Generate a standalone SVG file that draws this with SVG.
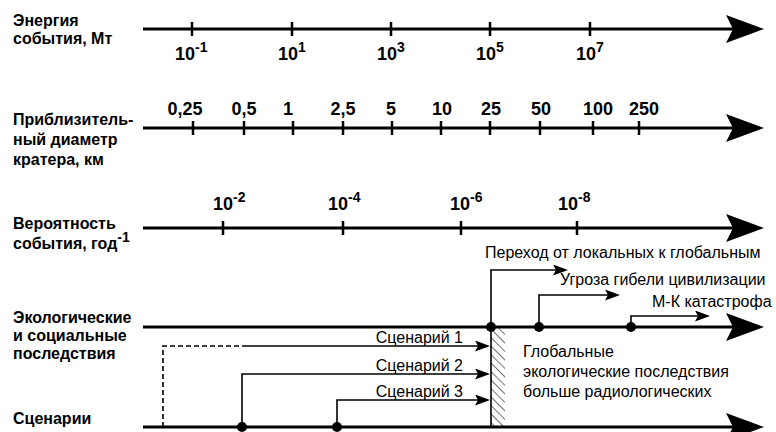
<svg xmlns="http://www.w3.org/2000/svg" width="776" height="432" viewBox="0 0 776 432">
<style>
.lbl{font-family:"Liberation Sans",Arial,sans-serif;font-weight:bold;font-size:16px;fill:#000}
.tk{font-family:"Liberation Sans",Arial,sans-serif;font-weight:bold;font-size:18px;fill:#000}
.tk2{font-family:"Liberation Sans",Arial,sans-serif;font-weight:bold;font-size:18px;fill:#000}
.sup{font-size:14px}
.txt{font-family:"Liberation Sans",Arial,sans-serif;font-size:16px;fill:#000}
.axis{stroke:#000;stroke-width:3;fill:none}
.tick{stroke:#000;stroke-width:2.5}
.br{stroke:#000;stroke-width:1.6;fill:none}
</style>
<defs>
<marker id="big" markerUnits="userSpaceOnUse" viewBox="0 0 38 28" markerWidth="38" markerHeight="28" refX="24" refY="14" orient="auto">
<path d="M0,0 L38,14 L0,28 L7,14 z" fill="#000"/>
</marker>
<marker id="sm" markerUnits="userSpaceOnUse" viewBox="0 0 15 11" markerWidth="15" markerHeight="11" refX="10" refY="5.5" orient="auto">
<path d="M0,0 L15,5.5 L0,11 L3,5.5 z" fill="#000"/>
</marker>
<pattern id="hatch" patternUnits="userSpaceOnUse" width="6" height="6" patternTransform="rotate(-45)">
<line x1="0" y1="0" x2="0" y2="6" stroke="#000" stroke-width="1.1"/>
</pattern>
</defs>

<g id="energy">
<text class="lbl" x="13" y="26">Энергия</text>
<text class="lbl" x="13" y="44">события, Мт</text>
<line class="axis" x1="143" y1="29" x2="750" y2="29" marker-end="url(#big)"/>
<g class="tick">
<line x1="192" y1="22" x2="192" y2="36"/><line x1="292" y1="22" x2="292" y2="36"/><line x1="391" y1="22" x2="391" y2="36"/><line x1="490" y1="22" x2="490" y2="36"/><line x1="590" y1="22" x2="590" y2="36"/>
</g>
<text class="tk" x="175" y="60">10<tspan class="sup" dy="-8">-1</tspan></text>
<text class="tk" x="278" y="60">10<tspan class="sup" dy="-8">1</tspan></text>
<text class="tk" x="377" y="60">10<tspan class="sup" dy="-8">3</tspan></text>
<text class="tk" x="476" y="60">10<tspan class="sup" dy="-8">5</tspan></text>
<text class="tk" x="576" y="60">10<tspan class="sup" dy="-8">7</tspan></text>
</g>

<g id="crater">
<text class="lbl" x="13" y="125">Приблизитель-</text>
<text class="lbl" x="13" y="145">ный диаметр</text>
<text class="lbl" x="13" y="165">кратера, км</text>
<line class="axis" x1="143" y1="128" x2="750" y2="128" marker-end="url(#big)"/>
<g class="tick">
<line x1="193" y1="121" x2="193" y2="135"/><line x1="244" y1="121" x2="244" y2="135"/><line x1="293" y1="121" x2="293" y2="135"/><line x1="343" y1="121" x2="343" y2="135"/><line x1="392" y1="121" x2="392" y2="135"/><line x1="441" y1="121" x2="441" y2="135"/><line x1="490" y1="121" x2="490" y2="135"/><line x1="540" y1="121" x2="540" y2="135"/><line x1="593" y1="121" x2="593" y2="135"/><line x1="639" y1="121" x2="639" y2="135"/>
</g>
<g class="tk2" text-anchor="middle">
<text x="185" y="115">0,25</text><text x="244" y="115">0,5</text><text x="288" y="115">1</text><text x="343" y="115">2,5</text><text x="391" y="115">5</text><text x="442" y="115">10</text><text x="491" y="115">25</text><text x="541" y="115">50</text><text x="598" y="115">100</text><text x="644" y="115">250</text>
</g>
</g>

<g id="probability">
<text class="lbl" x="13" y="229">Вероятность</text>
<text class="lbl" x="13" y="249">события, год<tspan class="sup" dy="-7">-1</tspan></text>
<line class="axis" x1="143" y1="228" x2="750" y2="228" marker-end="url(#big)"/>
<g class="tick">
<line x1="223" y1="221" x2="223" y2="235"/><line x1="343" y1="221" x2="343" y2="235"/><line x1="461" y1="221" x2="461" y2="235"/><line x1="577" y1="221" x2="577" y2="235"/>
</g>
<text class="tk" x="213" y="210">10<tspan class="sup" dy="-8">-2</tspan></text>
<text class="tk" x="328" y="210">10<tspan class="sup" dy="-8">-4</tspan></text>
<text class="tk" x="450" y="210">10<tspan class="sup" dy="-8">-6</tspan></text>
<text class="tk" x="558" y="210">10<tspan class="sup" dy="-8">-8</tspan></text>
</g>

<g id="ecology">
<text class="lbl" x="13" y="323">Экологические</text>
<text class="lbl" x="13" y="341">и социальные</text>
<text class="lbl" x="13" y="359">последствия</text>
<line class="axis" x1="143" y1="327" x2="750" y2="327" marker-end="url(#big)"/>
</g>

<g id="scenarios">
<text class="lbl" x="13" y="424">Сценарии</text>
<line class="axis" x1="143" y1="427" x2="750" y2="427" marker-end="url(#big)"/>
</g>

<g id="hatched-zone">
<rect x="491" y="327" width="14" height="100" fill="url(#hatch)"/>
</g>

<g id="connectors">
<polyline class="br" points="491,427 491,270 563,270" marker-end="url(#sm)"/>
<polyline class="br" points="539,327 539,295 615,295" marker-end="url(#sm)"/>
<polyline class="br" points="631,327 631,316 705,316" marker-end="url(#sm)"/>
<polyline class="br" points="163,427 163,346 242,346" stroke-dasharray="5,3"/>
<line class="br" x1="242" y1="346" x2="485" y2="346" marker-end="url(#sm)"/>
<polyline class="br" points="242,427 242,374 485,374" marker-end="url(#sm)"/>
<polyline class="br" points="337,427 337,400 485,400" marker-end="url(#sm)"/>
</g>

<g id="dots" fill="#000">
<circle cx="491" cy="327" r="5"/><circle cx="539" cy="327" r="5"/><circle cx="631" cy="327" r="5"/><circle cx="242" cy="427" r="5"/><circle cx="337" cy="427" r="5"/>
</g>

<g id="labels">
<text class="txt" x="485" y="258">Переход от локальных к глобальным</text>
<text class="txt" x="560" y="285">Угроза гибели цивилизации</text>
<text class="txt" x="652" y="307">М-К катастрофа</text>
<text class="txt" x="463" y="343" text-anchor="end">Сценарий 1</text>
<text class="txt" x="463" y="371" text-anchor="end">Сценарий 2</text>
<text class="txt" x="463" y="397" text-anchor="end">Сценарий 3</text>
<text class="txt" x="523" y="357">Глобальные</text>
<text class="txt" x="523" y="377">экологические последствия</text>
<text class="txt" x="523" y="397">больше радиологических</text>
</g>
</svg>
